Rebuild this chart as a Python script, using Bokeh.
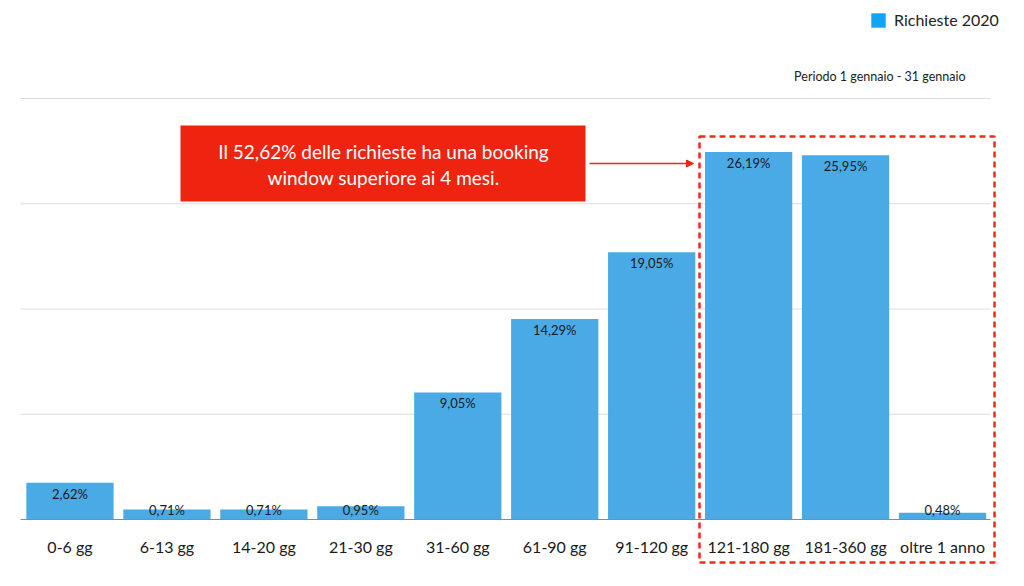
import numpy as np
from bokeh.plotting import figure
from bokeh.models import (Range1d, FixedTicker, Legend, LegendItem, LinearAxis,
                          BoxAnnotation, Label, Arrow, NormalHead, ColumnDataSource)
from bokeh.core.properties import value
from bokeh.embed import file_html
from bokeh.resources import INLINE

# ---- data ----
categories = ["0-6 gg", "6-13 gg", "14-20 gg", "21-30 gg", "31-60 gg",
              "61-90 gg", "91-120 gg", "121-180 gg", "181-360 gg", "oltre 1 anno"]
values = [2.62, 0.71, 0.71, 0.95, 9.05, 14.29, 19.05, 26.19, 25.95, 0.48]
series_name = "Richieste 2020"
grid_ticks = [7.5, 15, 22.5, 30]
period_text = "Periodo 1 gennaio - 31 gennaio"
callout_lines = ["Il 52,62% delle richieste ha una booking", "window superiore ai 4 mesi."]

FONT = "Lato"
BAR = "#4aaae6"
LEG = "#12a4f4"
RED = "#ef2410"
DASH_RED = "#f5281e"

W, H = 1024, 586
# pixel layout of the plotting area: category slots from x=21 to x=990.5, baseline y=519, value 30 at y=98
slot = (990.5 - 21) / len(categories)
ppu = (519 - 98) / 30.0

idx = list(range(len(categories)))
labels = [f"{v:.2f}".replace(".", ",") + "%" for v in values]
label_y = list(np.maximum(values, 1.46))
src = ColumnDataSource(dict(x=idx, top=values, lab=labels, ly=label_y))

x0 = -0.5 - 21 / slot
x1 = x0 + W / slot
y0 = -(H - 519) / ppu
y1 = 30 + 98 / ppu

p = figure(width=W, height=H, x_range=Range1d(x0, x1), y_range=Range1d(y0, y1),
           output_backend="svg", toolbar_location=None,
           x_axis_type=None, y_axis_type=None,
           min_border=0, min_border_left=0, min_border_right=0,
           min_border_top=0, min_border_bottom=0)
p.outline_line_color = None
p.background_fill_color = "white"
p.border_fill_color = "white"
p.xgrid.visible = False
p.ygrid.visible = False

# x axis drawn at the baseline inside the frame
xa = LinearAxis(fixed_location=0, ticker=FixedTicker(ticks=idx),
                major_label_overrides={i: c for i, c in enumerate(categories)},
                bounds=(-0.5 - 1 / slot, 9.5 - 0.5 / slot))
xa.axis_line_color = "#8a8a8a"
xa.axis_line_width = 1
xa.major_tick_line_color = None
xa.minor_tick_line_color = None
xa.major_label_text_font = FONT
xa.major_label_text_font_size = "16px"
xa.major_label_text_color = "#1a1a1a"
xa.major_label_standoff = 11
p.add_layout(xa, "below")

# horizontal grid lines
p.segment(x0=[-0.5 - 1 / slot] * len(grid_ticks), x1=[9.5 - 0.5 / slot] * len(grid_ticks),
          y0=grid_ticks, y1=grid_ticks, line_color="#dcdcdc", line_width=1)

bars = p.vbar(x="x", top="top", width=0.9, source=src, fill_color=BAR, line_color=None)
p.text(x="x", y="ly", text="lab", source=src, text_align="center", text_baseline="middle",
       y_offset=11, text_font=value(FONT), text_font_size="13px", text_color="#1a1a1a")

# legend (dummy renderer carrying the legend colour)
dummy = p.vbar(x=[np.nan], top=[np.nan], width=0.9, fill_color=LEG, line_color=None)
legend = Legend(items=[LegendItem(label=series_name, renderers=[dummy])],
                location=(869, H - 29), orientation="horizontal", padding=0, margin=0,
                glyph_width=18, glyph_height=18, label_height=18, label_standoff=7,
                border_line_color=None, background_fill_alpha=0,
                label_text_font=FONT, label_text_font_size="16px", label_text_color="#222222")
p.add_layout(legend, "center")

p.add_layout(Label(x=965, y=H - 76, x_units="screen", y_units="screen", text=period_text,
                   text_align="right", text_baseline="middle", text_font=FONT,
                   text_font_size="12.5px", text_color="#222222"))

# callout box
p.add_layout(BoxAnnotation(left=180, right=585, top=H - 125, bottom=H - 201,
                           left_units="screen", right_units="screen",
                           top_units="screen", bottom_units="screen",
                           fill_color=RED, fill_alpha=1, line_color=None))
for i, t in enumerate(callout_lines):
    p.add_layout(Label(x=383, y=H - 151 - 26 * i, x_units="screen", y_units="screen", text=t,
                       text_align="center", text_baseline="middle", text_font=FONT,
                       text_font_size="19px", text_color="white"))

p.add_layout(Arrow(x_start=589, y_start=H - 163, x_end=693, y_end=H - 163,
                   start_units="screen", end_units="screen",
                   line_color=RED, line_width=1.5,
                   end=NormalHead(size=7, fill_color=RED, line_color=RED)))

# dashed highlight
p.add_layout(BoxAnnotation(left=699, right=994, top=H - 136, bottom=H - 562,
                           left_units="screen", right_units="screen",
                           top_units="screen", bottom_units="screen",
                           fill_alpha=0, line_color=DASH_RED, line_alpha=1, line_width=2.5,
                           line_dash="6 4"))

open("out.html", "w").write(file_html(p, INLINE))
